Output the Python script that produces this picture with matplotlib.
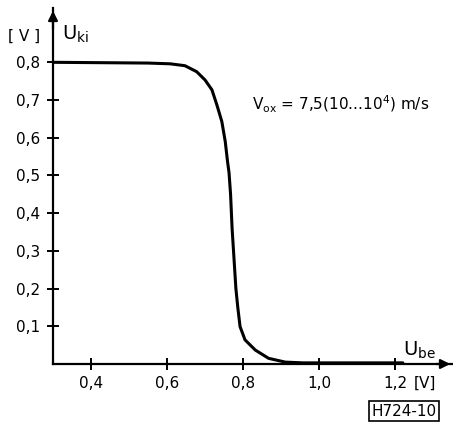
import numpy as np
import matplotlib.pyplot as plt

plt.rcParams['font.family'] = 'DejaVu Sans'
plt.rcParams['mathtext.fontset'] = 'dejavusans'

# transfer curve
u_be = [0.30, 0.55, 0.608, 0.647, 0.678, 0.70, 0.718, 0.731, 0.744, 0.753,
        0.759, 0.763, 0.767, 0.771, 0.776, 0.781, 0.786, 0.792, 0.805, 0.832,
        0.867, 0.911, 0.958, 1.0, 1.22]
u_ki = [0.80, 0.798, 0.796, 0.791, 0.775, 0.753, 0.727, 0.687, 0.643, 0.59,
        0.537, 0.507, 0.45, 0.36, 0.28, 0.20, 0.15, 0.099, 0.064, 0.037,
        0.015, 0.005, 0.003, 0.003, 0.003]

x_ticks = [0.4, 0.6, 0.8, 1.0, 1.2]
x_labels = ['0,4', '0,6', '0,8', '1,0', '1,2']
y_ticks = [0.1, 0.2, 0.3, 0.4, 0.5, 0.6, 0.7, 0.8]
y_labels = ['0,1', '0,2', '0,3', '0,4', '0,5', '0,6', '0,7', '0,8']

W, H = 453, 424
fig = plt.figure(figsize=(W / 100, H / 100), dpi=100)
ax = fig.add_axes([53 / W, 60 / H, 400 / W, 356 / H])
ax.set_xlim(0.3, 1.352)
ax.set_ylim(0, 0.944)

ax.plot(u_be, u_ki, color='black', lw=2.2, solid_capstyle='round',
        solid_joinstyle='round')

for s in ['top', 'right']:
    ax.spines[s].set_visible(False)
for s in ['left', 'bottom']:
    ax.spines[s].set_linewidth(1.6)

# arrow heads
ax.annotate('', xy=(1.352, 0), xytext=(1.30, 0),
            arrowprops=dict(arrowstyle='-|>', color='black', lw=1.6,
                            mutation_scale=14), annotation_clip=False)
ax.annotate('', xy=(0.3, 0.944), xytext=(0.3, 0.88),
            arrowprops=dict(arrowstyle='-|>', color='black', lw=1.6,
                            mutation_scale=14), annotation_clip=False)

ax.set_xticks(x_ticks)
ax.set_xticklabels(x_labels)
ax.set_yticks(y_ticks)
ax.set_yticklabels(y_labels)
ax.tick_params(direction='inout', length=8, width=1.4, labelsize=11, pad=5)

fig.text(8 / W, 1 - 36 / H, '[ V ]', fontsize=11, va='center', ha='left')
fig.text(62 / W, 1 - 34 / H, r'U$_{\rm ki}$', fontsize=14, va='center', ha='left')
fig.text(403 / W, 1 - 350 / H, r'U$_{\rm be}$', fontsize=14, va='center', ha='left')
fig.text(414 / W, 1 - 383 / H, '[V]', fontsize=11, va='center', ha='left')
fig.text(252 / W, 1 - 104 / H, r'V$_{\rm ox}$ = 7,5(10...10$^{4}$) m/s',
         fontsize=11, va='center', ha='left')
fig.text(404 / W, 1 - 411 / H, 'H724-10', fontsize=11, va='center', ha='center',
         bbox=dict(boxstyle='square,pad=0.15', fc='white', ec='black', lw=1.2))

fig.savefig('out.png', dpi=100)
